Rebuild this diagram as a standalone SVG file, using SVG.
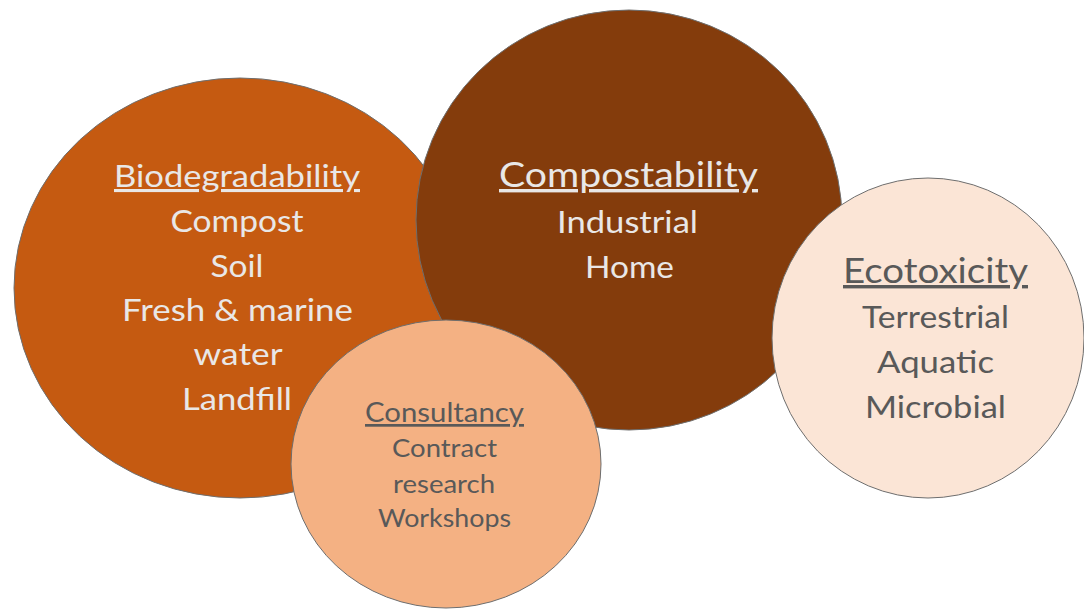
<svg xmlns="http://www.w3.org/2000/svg" width="1084" height="610" viewBox="0 0 1084 610">
<style>
.c{stroke:#6e6e6e;stroke-width:1}
.t{font-family:Lato,"Liberation Sans",sans-serif;text-anchor:middle}
.lt{fill:#e9e7e6}
.dk{fill:#595959}
.u{text-decoration:underline}
</style>
<rect width="1084" height="610" fill="#ffffff"/>
<g id="biodegradability">
<ellipse class="c" cx="240" cy="288" rx="226" ry="210" fill="#c55a11"/>
<text class="t lt u" x="237" y="187" font-size="31" textLength="246" lengthAdjust="spacingAndGlyphs">Biodegradability</text>
<text class="t lt" x="237" y="232" font-size="31" textLength="133" lengthAdjust="spacingAndGlyphs">Compost</text>
<text class="t lt" x="237" y="277" font-size="31" textLength="53" lengthAdjust="spacingAndGlyphs">Soil</text>
<text class="t lt" x="237.5" y="321" font-size="31" textLength="231" lengthAdjust="spacingAndGlyphs">Fresh &amp; marine</text>
<text class="t lt" x="238" y="365" font-size="31" textLength="89" lengthAdjust="spacingAndGlyphs">water</text>
<text class="t lt" x="237" y="410" font-size="31" textLength="110" lengthAdjust="spacingAndGlyphs">Landfill</text>
</g>
<g id="compostability">
<ellipse class="c" cx="629" cy="220" rx="213" ry="210" fill="#843c0c"/>
<text class="t lt u" x="628.5" y="187" font-size="34" textLength="259" lengthAdjust="spacingAndGlyphs">Compostability</text>
<text class="t lt" x="627.5" y="233" font-size="31" textLength="141" lengthAdjust="spacingAndGlyphs">Industrial</text>
<text class="t lt" x="629.5" y="278" font-size="31" textLength="89" lengthAdjust="spacingAndGlyphs">Home</text>
</g>
<g id="ecotoxicity">
<ellipse class="c" cx="928" cy="338" rx="156" ry="160" fill="#fbe5d6"/>
<text class="t dk u" x="935.5" y="283" font-size="34" textLength="185" lengthAdjust="spacingAndGlyphs">Ecotoxicity</text>
<text class="t dk" x="935.5" y="328" font-size="31" textLength="147" lengthAdjust="spacingAndGlyphs">Terrestrial</text>
<text class="t dk" x="935.5" y="373" font-size="31" textLength="117" lengthAdjust="spacingAndGlyphs">Aquatic</text>
<text class="t dk" x="935.5" y="418" font-size="31" textLength="141" lengthAdjust="spacingAndGlyphs">Microbial</text>
</g>
<g id="consultancy">
<ellipse class="c" cx="446" cy="464" rx="155" ry="144" fill="#f4b183"/>
<text class="t dk u" x="444.5" y="422" font-size="27" textLength="159" lengthAdjust="spacingAndGlyphs">Consultancy</text>
<text class="t dk" x="444.5" y="457" font-size="25" textLength="105" lengthAdjust="spacingAndGlyphs">Contract</text>
<text class="t dk" x="444" y="493" font-size="25" textLength="102" lengthAdjust="spacingAndGlyphs">research</text>
<text class="t dk" x="444.5" y="527" font-size="25" textLength="133" lengthAdjust="spacingAndGlyphs">Workshops</text>
</g>
<g id="connectors"></g>
</svg>
